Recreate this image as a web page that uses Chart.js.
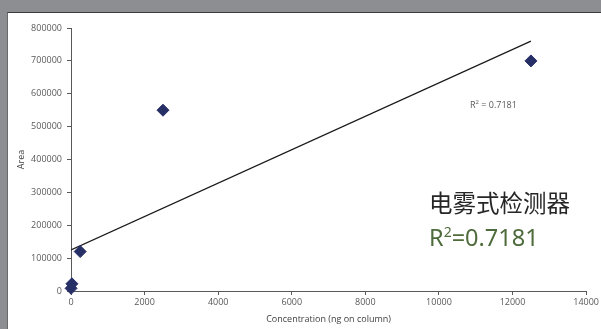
<!DOCTYPE html>
<html><head><meta charset="utf-8">
<script src="https://cdn.jsdelivr.net/npm/chart.js@4.4.0/dist/chart.umd.min.js"></script>
<style>
html,body{margin:0;padding:0;width:601px;height:329px;overflow:hidden;background:#8c8e92;}
#panel{position:absolute;left:7px;top:12px;width:594px;height:317px;background:#fff;border-top:1px solid #3a3a3a;border-left:1px solid #6a6a6a;box-sizing:border-box;}
#c{position:absolute;left:0;top:0;}
.lbl{position:absolute;white-space:nowrap;}
</style></head><body>
<div id="panel"><canvas id="c" width="593" height="316"></canvas>
<div class="lbl" style="left:462px;top:85px;font:9px 'Open Sans',sans-serif;color:#595959;">R<sup style="font-size:6px;">2</sup> = 0.7181</div>
<div class="lbl" style="left:421px;top:172px;font:23.5px 'Noto Sans CJK SC',sans-serif;color:#262626;">电雾式检测器</div>
<div class="lbl" style="left:421px;top:208px;font:23.5px 'Noto Sans','Open Sans',sans-serif;color:#4e6b3b;">R<sup style="font-size:14px;line-height:0;">2</sup>=0.7181</div>
</div>
<script>
const concentrations = [2.5, 25, 250, 2500, 12500];
const areas = [8000, 22000, 120000, 550000, 700000];
const trendX = [0, 12500];
const trendY = [125000, 760000];
const xTicks = [0, 2000, 4000, 6000, 8000, 10000, 12000, 14000];
const yTicks = [0, 100000, 200000, 300000, 400000, 500000, 600000, 700000, 800000];

const tickFont = {family: "'Open Sans', sans-serif", size: 9};
new Chart(document.getElementById('c'), {
  type: 'scatter',
  data: {
    datasets: [
      {data: concentrations.map((x,i)=>({x, y: areas[i]})), pointStyle:'rectRot', radius:6, hoverRadius:6,
       backgroundColor:'#262f66', borderColor:'#262f66', showLine:false, order:1, clip:false},
      {data: trendX.map((x,i)=>({x, y: trendY[i]})), showLine:true, pointRadius:0, borderColor:'#1a1a1a', borderWidth:1.2, order:2}
    ]
  },
  options: {
    responsive:false, animation:false, devicePixelRatio:1,
    layout:{padding:{top:15,right:14,left:0,bottom:0}},
    plugins:{legend:{display:false}, tooltip:{enabled:false}},
    scales:{
      x:{type:'linear', min:0, max:14000,
        afterBuildTicks:(s)=>{s.ticks = xTicks.map(v=>({value:v}));},
        afterFit:(s)=>{s.height=38;},
        grid:{drawOnChartArea:false, tickLength:4, color:'#595959'},
        border:{color:'#595959', width:1},
        ticks:{font:tickFont, color:'#595959', padding:2, maxRotation:0, callback:(v)=>String(v)},
        title:{display:true, text:'Concentration (ng on column)', font:tickFont, color:'#404040', padding:{top:3}}
      },
      y:{type:'linear', min:0, max:800000,
        afterBuildTicks:(s)=>{s.ticks = yTicks.map(v=>({value:v}));},
        afterFit:(s)=>{s.width=63;},
        grid:{drawOnChartArea:false, tickLength:4, color:'#595959'},
        border:{color:'#595959', width:1},
        ticks:{font:tickFont, color:'#595959', padding:5, callback:(v)=>String(v)},
        title:{display:true, text:'Area', font:tickFont, color:'#404040', padding:{top:8,bottom:4}}
      }
    }
  }
});
</script>
</body></html>
